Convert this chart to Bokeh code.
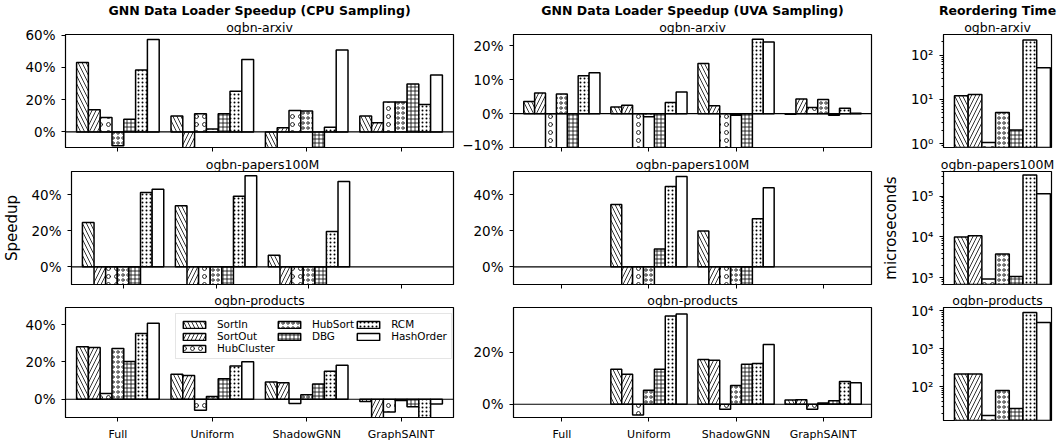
import numpy as np
from bokeh.plotting import figure
from bokeh.layouts import column, row
from bokeh.models import (Range1d, FixedTicker, CustomJSTickFormatter, Span, Title,
                          Legend, LegendItem, ColumnDataSource)
from bokeh.embed import file_html
from bokeh.resources import INLINE

FONT = "DejaVu Sans"
NAN = float("nan")

methods = ["SortIn", "SortOut", "HubCluster", "HubSort", "DBG", "RCM", "HashOrder"]
samplers = ["Full", "Uniform", "ShadowGNN", "GraphSAINT"]

# speedup values per method, columns = samplers (Full, Uniform, ShadowGNN, GraphSAINT)
cpu_arxiv = [
    [0.431, 0.098, -0.15, 0.098],
    [0.137, -0.15, 0.025, 0.057],
    [0.090, 0.113, 0.133, 0.185],
    [-0.086, 0.018, 0.129, 0.185],
    [0.078, 0.113, -0.15, 0.297],
    [0.384, 0.252, 0.029, 0.170],
    [0.574, 0.449, 0.509, 0.353],
]
cpu_papers = [
    [0.247, 0.339, 0.065, NAN],
    [-0.15, -0.15, -0.15, NAN],
    [-0.15, -0.15, -0.15, NAN],
    [-0.15, -0.15, -0.15, NAN],
    [-0.15, -0.15, -0.15, NAN],
    [0.413, 0.393, 0.197, NAN],
    [0.432, 0.506, 0.474, NAN],
]
cpu_products = [
    [0.281, 0.134, 0.093, -0.012],
    [0.278, 0.127, 0.089, -0.12],
    [0.031, -0.059, -0.023, -0.068],
    [0.272, 0.014, 0.024, -0.007],
    [0.203, 0.110, 0.082, -0.040],
    [0.353, 0.178, 0.150, -0.12],
    [0.407, 0.201, 0.182, -0.026],
]
uva_arxiv = [
    [0.036, 0.020, 0.148, -0.002],
    [0.061, 0.025, 0.023, 0.043],
    [-0.15, -0.15, -0.15, 0.018],
    [0.058, -0.009, -0.005, 0.042],
    [-0.15, -0.15, -0.15, -0.005],
    [0.112, 0.033, 0.220, 0.016],
    [0.121, 0.064, 0.212, 0.001],
]
uva_papers = [
    [NAN, 0.346, 0.199, NAN],
    [NAN, -0.15, -0.15, NAN],
    [NAN, -0.15, -0.15, NAN],
    [NAN, -0.15, -0.15, NAN],
    [NAN, 0.099, -0.15, NAN],
    [NAN, 0.447, 0.268, NAN],
    [NAN, 0.502, 0.439, NAN],
]
uva_products = [
    [NAN, 0.135, 0.173, 0.016],
    [NAN, 0.116, 0.170, 0.017],
    [NAN, -0.041, -0.019, -0.019],
    [NAN, 0.054, 0.072, 0.005],
    [NAN, 0.135, 0.154, 0.014],
    [NAN, 0.340, 0.157, 0.088],
    [NAN, 0.348, 0.230, 0.083],
]
# reordering time (microseconds), per method
time_arxiv = [12.2, 13.0, 1.07, 5.1, 2.06, 217, 52]
time_papers = [9.9e3, 1.07e4, 930, 3.84e3, 1.08e3, 3.3e5, 1.14e5]
time_products = [215, 215, 17.3, 78.5, 26.4, 9.0e3, 4.9e3]

hatch = {
    "SortIn": dict(hatch_pattern="\\", hatch_scale=8),
    "SortOut": dict(hatch_pattern="/", hatch_scale=8),
    "HubCluster": dict(hatch_pattern="o", hatch_scale=8),
    "HubSort": dict(hatch_pattern="o", hatch_scale=5),
    "DBG": dict(hatch_pattern="+", hatch_scale=4),
    "RCM": dict(hatch_pattern=".", hatch_scale=4),
    "HashOrder": dict(hatch_pattern=" ", hatch_scale=8),
}

pct_fmt = CustomJSTickFormatter(code="""
const v = Math.round(tick*100);
return (v < 0 ? '\\u2212' : '') + Math.abs(v) + '%';
""")
log_fmt_code = """
const e = Math.round(Math.log10(tick));
const sup = {'0':'\\u2070','1':'\\u00b9','2':'\\u00b2','3':'\\u00b3','4':'\\u2074','5':'\\u2075','6':'\\u2076','7':'\\u2077','8':'\\u2078','9':'\\u2079','-':'\\u207b'};
return '10' + String(e).split('').map(c => sup[c]).join('');
"""

# figure geometry: (width, left border, frame width, right border)
COLS = [(458, 65, 388, 5), (418, 55, 358, 5), (186, 67, 108, 11)]
# (height, top border, frame height, bottom border)
ROWS = [(152, 34, 113, 5), (137, 19, 113, 5), (154, 18, 113, 23)]


def base_fig(ci, ri, x_range, y_range, y_type="linear"):
    w, bl, fw, br = COLS[ci]
    h, bt, fh, bb = ROWS[ri]
    p = figure(width=w, height=h, x_range=x_range, y_range=y_range,
               y_axis_type=y_type, output_backend="svg", toolbar_location=None, tools="",
               min_border_left=bl, min_border_right=br,
               min_border_top=bt, min_border_bottom=bb)
    if "frame_align" in p.properties():
        p.frame_align = False
    p.xgrid.visible = False
    p.ygrid.visible = False
    p.outline_line_color = "black"
    p.outline_line_width = 1.2
    p.background_fill_color = "white"
    p.border_fill_color = "white"
    for ax in (p.xaxis[0], p.yaxis[0]):
        ax.axis_line_color = "black"
        ax.major_tick_line_color = "black"
        ax.major_tick_out = 4
        ax.major_tick_in = 0
        ax.minor_tick_in = 0
        ax.major_label_text_font = FONT
        ax.axis_label_text_font = FONT
        ax.axis_label_text_font_style = "normal"
        ax.axis_label_text_font_size = "15px"
        ax.axis_label_text_color = "black"
        ax.major_label_text_color = "black"
    return p


def add_title(p, text, size, bold=False, offset=0):
    p.add_layout(Title(text=text, align="center", offset=offset, standoff=0,
                       text_font=FONT, text_font_size=size,
                       text_font_style="bold" if bold else "normal",
                       text_color="black"), "above")


def speed_fig(data, ci, ri, ylim, yticks, show_xlabels, subtitle):
    p = base_fig(ci, ri, Range1d(-0.555, 3.555), Range1d(*ylim))
    renderers = []
    bw = 0.125
    for m, name in enumerate(methods):
        xs = np.arange(len(samplers)) + (m - 3) * bw
        src = ColumnDataSource(dict(x=xs, top=data[m]))
        r = p.vbar(x="x", top="top", bottom=0, width=bw, source=src,
                   fill_color="white", line_color="black", line_width=1.5,
                   hatch_color="black", hatch_weight=0.8, **hatch[name])
        renderers.append(r)
    p.add_layout(Span(location=0, dimension="width", line_color="black", line_width=1.2))
    p.xaxis.ticker = FixedTicker(ticks=list(range(len(samplers))))
    p.xaxis.minor_tick_out = 0
    if show_xlabels:
        p.xaxis.major_label_overrides = {i: s for i, s in enumerate(samplers)}
        p.xaxis.major_label_text_font_size = "11px"
        p.xaxis.major_label_standoff = 6
    else:
        p.xaxis.major_label_overrides = {i: "" for i in range(len(samplers))}
        p.xaxis.major_label_text_font_size = "0px"
        p.xaxis.major_label_standoff = 0
    p.yaxis.ticker = FixedTicker(ticks=yticks)
    p.yaxis.minor_tick_out = 0
    p.yaxis.formatter = pct_fmt
    p.yaxis.major_label_text_font_size = "13.5px"
    p.yaxis.major_label_standoff = 6
    add_title(p, subtitle, "12.5px")
    return p, renderers


def time_fig(values, ri, ylim, yticks, minor, subtitle, ylabel=None):
    p = base_fig(2, ri, Range1d(-1.3, 6.58), Range1d(*ylim), y_type="log")
    for m, name in enumerate(methods):
        src = ColumnDataSource(dict(x=[m], top=[values[m]]))
        p.vbar(x="x", top="top", bottom=ylim[0] / 10, width=1.0, source=src,
               fill_color="white", line_color="black", line_width=1.5,
               hatch_color="black", hatch_weight=0.8, **hatch[name])
    p.xaxis.visible = False
    p.yaxis.ticker = FixedTicker(ticks=yticks, minor_ticks=minor)
    p.yaxis.formatter = CustomJSTickFormatter(code=log_fmt_code)
    p.yaxis.major_label_text_font_size = "13.5px"
    p.yaxis.major_label_standoff = 6
    p.yaxis.minor_tick_out = 2
    p.yaxis.minor_tick_line_color = "black"
    if ylabel:
        p.yaxis.axis_label = ylabel
        p.yaxis.axis_label_standoff = 8
    add_title(p, subtitle, "12.5px")
    return p


def minor_for(lo_exp, hi_exp):
    return [k * 10.0 ** e for e in range(lo_exp, hi_exp + 1) for k in range(2, 10)]


l1, _ = speed_fig(cpu_arxiv, 0, 0, (-0.097, 0.605), [0, 0.2, 0.4, 0.6], False, "ogbn-arxiv")
add_title(l1, "GNN Data Loader Speedup (CPU Sampling)", "12.5px", bold=True, offset=-7)
l2, _ = speed_fig(cpu_papers, 0, 1, (-0.098, 0.53), [0, 0.2, 0.4], False, "ogbn-papers100M")
l2.yaxis.axis_label = "Speedup"
l2.yaxis.axis_label_standoff = 7
l3, rs = speed_fig(cpu_products, 0, 2, (-0.098, 0.492), [0, 0.2, 0.4], True, "ogbn-products")

order = [0, 3, 5, 1, 4, 6, 2]
legend = Legend(items=[LegendItem(label=methods[i], renderers=[rs[i]]) for i in order],
                location=(110, 58), orientation="horizontal", ncols=3,
                label_text_font=FONT, label_text_font_size="10.4px", label_text_color="black",
                glyph_width=28, glyph_height=9, label_standoff=9, spacing=0,
                padding=4, margin=0, label_height=11,
                border_line_color="#cccccc", border_line_width=1,
                background_fill_alpha=0.85)
l3.add_layout(legend)

m1, _ = speed_fig(uva_arxiv, 1, 0, (-0.1001, 0.234), [-0.1, 0, 0.1, 0.2], False, "ogbn-arxiv")
add_title(m1, "GNN Data Loader Speedup (UVA Sampling)", "12.5px", bold=True, offset=-5)
m2, _ = speed_fig(uva_papers, 1, 1, (-0.098, 0.53), [0, 0.2, 0.4], False, "ogbn-papers100M")
m3, _ = speed_fig(uva_products, 1, 2, (-0.051, 0.373), [0, 0.2], True, "ogbn-products")

r1 = time_fig(time_arxiv, 0, (0.83, 290), [1, 10, 100], minor_for(-1, 2), "ogbn-arxiv")
add_title(r1, "Reordering Time", "12.5px", bold=True, offset=-7)
r2 = time_fig(time_papers, 1, (684, 4.0e5), [1e3, 1e4, 1e5], minor_for(2, 5), "ogbn-papers100M", ylabel="microseconds")
r3 = time_fig(time_products, 2, (12.7, 1.22e4), [1e2, 1e3, 1e4], minor_for(1, 4), "ogbn-products")

layout = column(row(l1, m1, r1), row(l2, m2, r2), row(l3, m3, r3))
open("out.html", "w").write(file_html(layout, INLINE))
